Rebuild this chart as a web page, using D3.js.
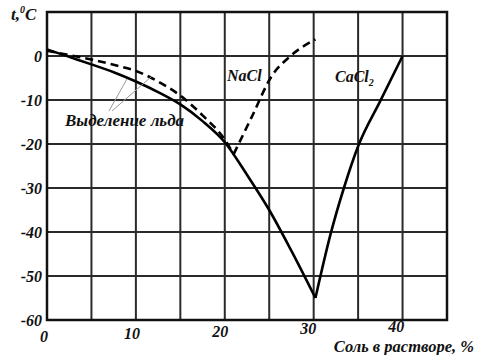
<!DOCTYPE html>
<html>
<head>
<meta charset="utf-8">
<script src="https://cdn.jsdelivr.net/npm/d3@7"></script>
<style>
  body { margin: 0; background: #fff; }
  text { font-family: "Liberation Serif", "DejaVu Serif", serif; font-weight: bold; font-style: italic; fill: #111; }
</style>
</head>
<body>
<svg id="chart" width="477" height="355"></svg>
<script>
// values
var xTicks = [0, 10, 20, 30, 40];
var yTicks = [0, -10, -20, -30, -40, -50, -60];

// CaCl2 (solid): ice branch and salt branch
var cacl2IceX = [0, 2.5, 5, 7.5, 10, 12.5, 15, 17.5, 20, 22.5, 25, 27.5, 30.2];
var cacl2IceY = [1.5, -0.2, -1.9, -3.7, -5.8, -8.2, -11, -14.8, -19.6, -27, -35, -44.3, -55];
var cacl2SaltX = [30.2, 31.9, 33.4, 35, 37.5, 40];
var cacl2SaltY = [-55, -40.5, -30, -20.5, -10.2, 0];

// NaCl (dashed)
var naclIceX = [0, 2.5, 5, 7.5, 10, 12.5, 15, 17.5, 20, 21];
var naclIceY = [1.2, 0.2, -0.8, -2, -3.4, -5.8, -9, -13.5, -19, -22.3];
var naclSaltX = [21, 23, 25.3, 27.4, 30.2];
var naclSaltY = [-22.3, -14, -4.5, 0, 3.8];

var svg = d3.select("#chart");
var W = 477, H = 355;
var m = {left: 47, top: 12};

var x = d3.scaleLinear().domain([0, 45]).range([m.left, 447]);
var y = d3.scaleLinear().domain([-60, 10]).range([320, m.top]);

svg.append("rect").attr("width", W).attr("height", H).attr("fill", "#fff");

// grid
var grid = svg.append("g").attr("stroke", "#2a2a2a").attr("stroke-width", 2);
d3.range(5, 45, 5).forEach(v => {
  grid.append("line").attr("x1", x(v)).attr("x2", x(v)).attr("y1", y(10)).attr("y2", y(-60));
});
d3.range(-50, 10, 10).forEach(v => {
  grid.append("line").attr("x1", x(0)).attr("x2", x(45)).attr("y1", y(v)).attr("y2", y(v));
});
svg.append("rect")
  .attr("x", x(0)).attr("y", y(10))
  .attr("width", x(45) - x(0)).attr("height", y(-60) - y(10))
  .attr("fill", "none").attr("stroke", "#111").attr("stroke-width", 2.5);

// tick labels
svg.selectAll(".ylab").data(yTicks).enter().append("text")
  .attr("class", "ylab")
  .attr("x", 42).attr("y", d => y(d) + 6)
  .attr("text-anchor", "end").attr("font-size", 16)
  .text(d => d);

svg.selectAll(".xlab").data(xTicks).enter().append("text")
  .attr("class", "xlab")
  .attr("x", d => x(d) - 3 - d * 0.08).attr("y", d => 342 - d * 0.26)
  .attr("text-anchor", "middle").attr("font-size", 16)
  .text(d => d);

var ylab = svg.append("text").attr("x", 11).attr("y", 20).attr("font-size", 17);
ylab.append("tspan").text("t,");
ylab.append("tspan").attr("font-size", 10).attr("dy", -7).text("0");
ylab.append("tspan").attr("dy", 7).text("C");

svg.append("text").attr("x", 474).attr("y", 352).attr("text-anchor", "end")
  .attr("font-size", 16.5).text("Соль в растворе, %");

// curves
function pts(xs, ys) { return xs.map((v, i) => [v, ys[i]]); }
var line = d3.line().x(d => x(d[0])).y(d => y(d[1])).curve(d3.curveMonotoneX);

[[cacl2IceX, cacl2IceY], [cacl2SaltX, cacl2SaltY]].forEach(s => {
  svg.append("path").datum(pts(s[0], s[1]))
    .attr("d", line).attr("fill", "none")
    .attr("stroke", "#000").attr("stroke-width", 2.6).attr("stroke-linejoin", "round");
});
[[naclIceX, naclIceY], [naclSaltX, naclSaltY]].forEach(s => {
  svg.append("path").datum(pts(s[0], s[1]))
    .attr("d", line).attr("fill", "none")
    .attr("stroke", "#000").attr("stroke-width", 2.6).attr("stroke-dasharray", "8,5");
});

// labels
svg.append("text").attr("x", 227).attr("y", 81).attr("font-size", 16).text("NaCl");
var ca = svg.append("text").attr("x", 335).attr("y", 82).attr("font-size", 16);
ca.append("tspan").text("CaCl");
ca.append("tspan").attr("font-size", 10).attr("dy", 4).text("2");

svg.append("text").attr("x", 65).attr("y", 126).attr("font-size", 17).text("Выделение льда");

// leader lines to the ice curves
var lead = svg.append("g").attr("stroke", "#999").attr("stroke-width", 1);
lead.append("line").attr("x1", 109).attr("y1", 111).attr("x2", x(9)).attr("y2", y(-5.2));
lead.append("line").attr("x1", 112).attr("y1", 111).attr("x2", x(11.8)).attr("y2", y(-4.6));
</script>
</body>
</html>
